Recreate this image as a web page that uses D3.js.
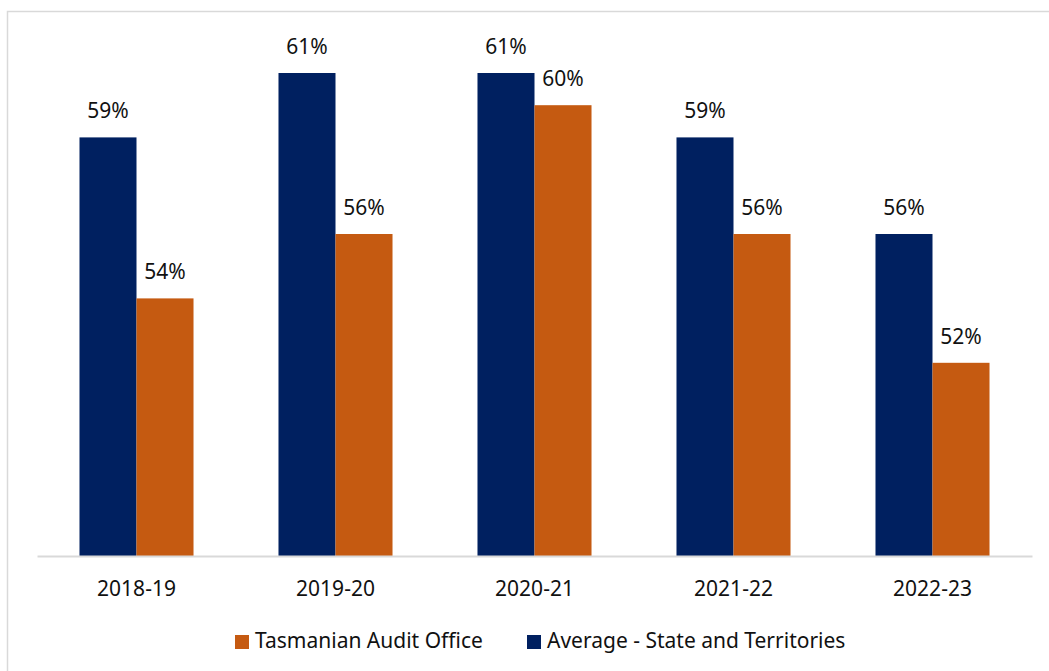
<!DOCTYPE html>
<html>
<head>
<meta charset="utf-8">
<script src="https://cdn.jsdelivr.net/npm/d3@7"></script>
<style>
  html, body { margin: 0; padding: 0; background: #fff; }
  svg { display: block; font-family: "Noto Sans", "Open Sans", sans-serif; }
</style>
</head>
<body>
<svg id="chart" width="1049" height="671"></svg>
<script>
// Financial years shown on the x axis
const years = ["2018-19", "2019-20", "2020-21", "2021-22", "2022-23"];
// Series names, in the order bars are drawn within each year
const seriesNames = ["Average - State and Territories", "Tasmanian Audit Office"];
// Values per year
const averageStates = [0.59, 0.61, 0.61, 0.59, 0.56];
const tasmanianAudit = [0.54, 0.56, 0.60, 0.56, 0.52];
// Legend order
const legendOrder = ["Tasmanian Audit Office", "Average - State and Territories"];

const colors = {
  "Average - State and Territories": "#002060",
  "Tasmanian Audit Office": "#C55A11"
};

const valuesBySeries = {
  "Average - State and Territories": averageStates,
  "Tasmanian Audit Office": tasmanianAudit
};

const textColor = "#111111";
const fontSize = 21;

const svg = d3.select("#chart");

// Outer frame
svg.append("rect")
  .attr("x", 7.5).attr("y", 11.5)
  .attr("width", 1100).attr("height", 700)
  .attr("fill", "none")
  .attr("stroke", "#d9d9d9")
  .attr("stroke-width", 1.5);

const plotLeft = 37, plotRight = 1032, baseY = 556;

const x0 = d3.scaleBand()
  .domain(years)
  .range([plotLeft, plotRight])
  .paddingInner(0.427)
  .paddingOuter(0.2135);

const x1 = d3.scaleBand()
  .domain(seriesNames)
  .range([0, x0.bandwidth()]);

const y = d3.scaleLinear()
  .domain([0.46, 0.62])
  .range([baseY, baseY - 16 * 32.2]);

const fmt = d3.format(".0%");

const rows = years.map((yr, i) => ({
  year: yr,
  items: seriesNames.map(s => ({ series: s, value: valuesBySeries[s][i] }))
}));

const groups = svg.append("g").selectAll("g")
  .data(rows)
  .join("g")
  .attr("transform", d => `translate(${x0(d.year)},0)`);

groups.selectAll("rect")
  .data(d => d.items)
  .join("rect")
  .attr("x", d => x1(d.series))
  .attr("y", d => y(d.value))
  .attr("width", x1.bandwidth())
  .attr("height", d => y(y.domain()[0]) - y(d.value))
  .attr("fill", d => colors[d.series]);

groups.selectAll("text")
  .data(d => d.items)
  .join("text")
  .attr("x", d => x1(d.series) + x1.bandwidth() / 2)
  .attr("y", d => y(d.value) - 19)
  .attr("text-anchor", "middle")
  .attr("font-size", fontSize)
  .attr("fill", textColor)
  .text(d => fmt(d.value));

// X axis
const xAxis = svg.append("g")
  .attr("transform", `translate(0,${baseY})`)
  .call(d3.axisBottom(x0).tickSize(0).tickPadding(25.5));
xAxis.select(".domain")
  .attr("stroke", "#d9d9d9")
  .attr("stroke-width", 2);
xAxis.selectAll("text")
  .attr("font-size", fontSize)
  .attr("font-family", "\"Noto Sans\", \"Open Sans\", sans-serif")
  .attr("fill", textColor);

// Legend
const legendPos = {
  "Tasmanian Audit Office": 235,
  "Average - State and Territories": 527
};
const legend = svg.append("g").selectAll("g")
  .data(legendOrder)
  .join("g")
  .attr("transform", d => `translate(${legendPos[d]},635)`);
legend.append("rect")
  .attr("width", 14).attr("height", 14)
  .attr("fill", d => colors[d]);
legend.append("text")
  .attr("x", 20).attr("y", 12.5)
  .attr("font-size", fontSize)
  .attr("fill", textColor)
  .text(d => d);
</script>
</body>
</html>
